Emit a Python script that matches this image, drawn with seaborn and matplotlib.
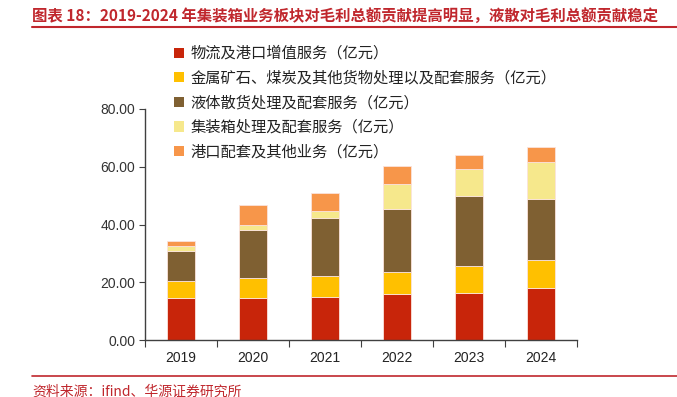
import pandas as pd
import matplotlib
matplotlib.use('Agg')
import matplotlib.pyplot as plt
from matplotlib.patches import Patch
from matplotlib.lines import Line2D
import seaborn as sns

# values (亿元)
years = ['2019', '2020', '2021', '2022', '2023', '2024']
logistics = [14.4, 14.6, 14.9, 15.9, 16.2, 17.9]
metal_coal = [6.1, 6.7, 7.4, 7.8, 9.3, 9.9]
liquid_bulk = [10.3, 16.9, 19.9, 21.6, 24.2, 21.2]
container = [1.6, 1.5, 2.6, 8.7, 9.6, 12.8]
port_other = [1.9, 7.2, 6.2, 6.2, 4.8, 4.9]

series_names = [
    '物流及港口增值服务（亿元）',
    '金属矿石、煤炭及其他货物处理以及配套服务（亿元）',
    '液体散货处理及配套服务（亿元）',
    '集装箱处理及配套服务（亿元）',
    '港口配套及其他业务（亿元）',
]
colors = ['#C8250A', '#FFC000', '#7F6032', '#F6E88C', '#F7964A']
title = '图表 18：2019-2024 年集装箱业务板块对毛利总额贡献提高明显，液散对毛利总额贡献稳定'
source = '资料来源：ifind、华源证券研究所'
yticks = [0, 20, 40, 60, 80]

sns.set_theme(style='white')
plt.rcParams['font.family'] = ['Noto Sans CJK SC', 'DejaVu Sans']

fig = plt.figure(figsize=(6.77, 3.97), dpi=100)
ax = fig.add_axes([145 / 677, 1 - 340 / 397, 432 / 677, 231 / 397])

bottom = [0.0] * len(years)
for vals, name, c in zip([logistics, metal_coal, liquid_bulk, container, port_other],
                         series_names, colors):
    df = pd.DataFrame({'year': years, 'value': vals})
    sns.barplot(data=df, x='year', y='value', order=years, color=c, width=0.4,
                bottom=bottom, edgecolor='#FBE3DC', linewidth=0.6,
                saturation=1, ax=ax)
    bottom = [b + v for b, v in zip(bottom, vals)]

ax.set_ylim(0, 80)
ax.set_xlim(-0.5, len(years) - 0.5)
ax.set_yticks(yticks)
ax.set_yticklabels([f'{t:.2f}' for t in yticks], fontsize=10, color='#333333',
                   family=['Liberation Sans', 'DejaVu Sans'])
ax.set_xticks(range(len(years)))
ax.set_xticklabels(years, fontsize=10, color='#222222',
                   family=['Liberation Sans', 'DejaVu Sans'])
ax.set_xlabel('')
ax.set_ylabel('')

for s in ['top', 'right']:
    ax.spines[s].set_visible(False)
for s in ['left', 'bottom']:
    ax.spines[s].set_color('#404040')
    ax.spines[s].set_linewidth(1.0)

# y ticks outward, x ticks at category boundaries
ax.tick_params(axis='y', which='major', direction='out', length=4, width=0.8,
               color='#404040', left=True, pad=3)
ax.tick_params(axis='x', which='major', length=0, pad=8)
ax.set_xticks([i + 0.5 for i in range(-1, len(years))], minor=True)
ax.tick_params(axis='x', which='minor', direction='out', length=5, width=0.8,
               color='#404040', bottom=True)

handles = [Patch(facecolor=c, edgecolor='none') for c in colors]
fig.legend(handles, series_names, loc='upper left',
           bbox_to_anchor=(174 / 677, 1 - 45 / 397), frameon=False,
           fontsize=11, handlelength=0.65, handleheight=0.65,
           handletextpad=0.45, labelspacing=0.5, borderpad=0,
           borderaxespad=0, labelcolor='#222222')

red = '#C0272D'
fig.text(32 / 677, 1 - 15.5 / 397, title, fontsize=11.1, fontweight='bold',
         color=red, va='center', ha='left')
fig.add_artist(Line2D([32 / 677, 1], [1 - 27 / 397] * 2, color=red, lw=1.5,
                      transform=fig.transFigure))
fig.add_artist(Line2D([32 / 677, 1], [1 - 376 / 397] * 2, color=red, lw=1.2,
                      transform=fig.transFigure))
fig.text(32 / 677, 1 - 391.5 / 397, source, fontsize=10, color=red,
         va='center', ha='left')

fig.savefig('out.png', dpi=100)
